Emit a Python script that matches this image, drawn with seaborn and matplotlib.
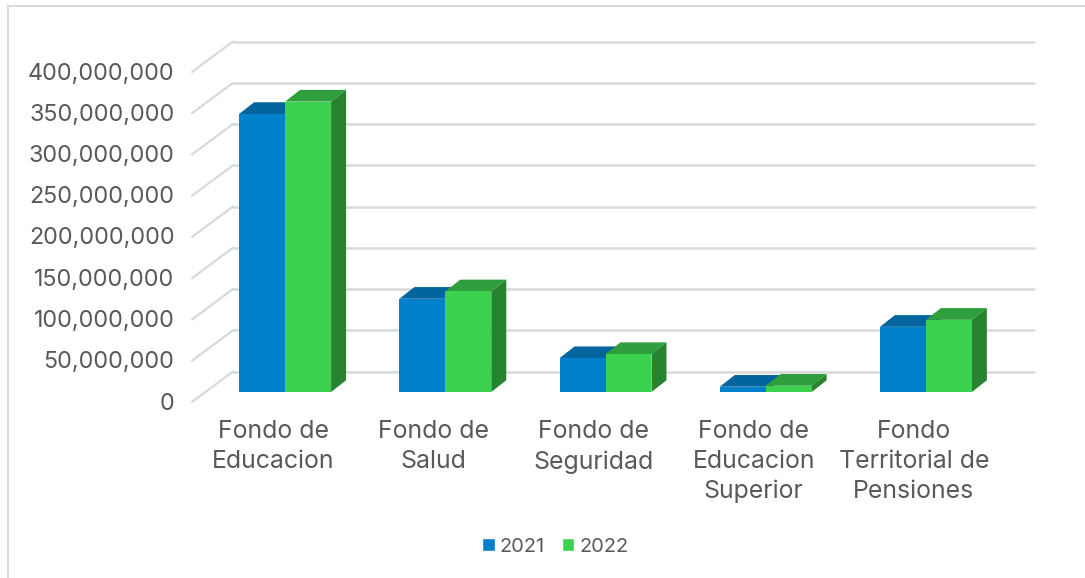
import pandas as pd
import matplotlib
matplotlib.use('Agg')
import matplotlib.pyplot as plt
from matplotlib.patches import Polygon, Rectangle
from matplotlib.transforms import Affine2D
import seaborn as sns

# valores
categorias = ['Fondo de\nEducacion', 'Fondo de\nSalud', 'Fondo de\nSeguridad',
              'Fondo de\nEducacion\nSuperior', 'Fondo\nTerritorial de\nPensiones']
valores_2021 = [337000000, 113000000, 41000000, 6400000, 79000000]
valores_2022 = [352000000, 122000000, 46000000, 7600000, 87500000]
anios = ['2021', '2022']
marcas_y = [0, 50000000, 100000000, 150000000, 200000000, 250000000, 300000000, 350000000, 400000000]

COLOR_FRENTE = {'2021': '#0180CC', '2022': '#3CD14F'}
COLOR_TAPA = {'2021': '#03649E', '2022': '#2F9E3C'}
COLOR_LADO = {'2021': '#025A8E', '2022': '#27832F'}
GRIS = '#D9D9D9'
TEXTO = '#595959'

sns.set_style('white')
plt.rcParams['font.family'] = ['Inter', 'DejaVu Sans']

W, H = 1085, 578
fig = plt.figure(figsize=(W / 100, H / 100), dpi=100)
# ejes en pixeles: plano de las barras
ax = fig.add_axes([205 / W, 186 / H, 801 / W, 330 / H])

df = pd.DataFrame({
    'categoria': categorias * 2,
    'valor': valores_2021 + valores_2022,
    'anio': [anios[0]] * 5 + [anios[1]] * 5,
})
sns.barplot(data=df, x='categoria', y='valor', hue='anio', hue_order=anios,
            palette=COLOR_FRENTE, saturation=1, width=0.574, gap=0, ax=ax)

ax.set_xlim(-0.5, 4.5)
ax.set_ylim(0, 400000000)
ax.set_yticks(marcas_y)
ax.set_yticklabels([f'{v:,}' for v in marcas_y])
ax.set_xlabel('')
ax.set_ylabel('')
sns.despine(ax=ax, left=True, bottom=True)
ax.patch.set_alpha(0)
ax.tick_params(axis='y', length=0, pad=22, labelsize=16.8, labelcolor=TEXTO)
ax.tick_params(axis='x', length=0, pad=20.5, labelsize=17.9, labelcolor=TEXTO)

# desplazar etiquetas respecto al plano de las barras
for lab in ax.get_yticklabels():
    lab.set_transform(lab.get_transform() + Affine2D().translate(0, -9))
for lab in ax.get_xticklabels():
    lab.set_transform(lab.get_transform() + Affine2D().translate(-12, 0))
    lab.set_linespacing(1.37)

# rejilla de la pared y el piso (efecto 3D)
atras = ax.transData + Affine2D().translate(28, 20.5)
frente = ax.transData + Affine2D().translate(-13, -10)
for v in marcas_y:
    ax.plot([-0.5, 4.5], [v, v], transform=atras, color=GRIS, lw=1.8, clip_on=False, zorder=0)
    p0 = frente.transform((-0.5, v))
    p1 = atras.transform((-0.5, v))
    ax.plot([p0[0], p1[0]], [p0[1], p1[1]], transform=None, color=GRIS, lw=1.6,
            clip_on=False, zorder=0)

# caras superior y lateral de cada barra
prof_x = 15 / 160.2
prof_y = 11.7 * 400000000 / 330
for i, (anio, cont) in enumerate(zip(anios, ax.containers)):
    for bar in cont:
        x0 = bar.get_x()
        x1 = x0 + bar.get_width()
        h = bar.get_height()
        bar.set_edgecolor('none')
        bar.set_zorder(3 + 2 * i)
        ax.add_patch(Polygon([(x0, h), (x1, h), (x1 + prof_x, h + prof_y), (x0 + prof_x, h + prof_y)],
                             facecolor=COLOR_TAPA[anio], edgecolor='none', zorder=2 + 2 * i))
        ax.add_patch(Polygon([(x1, 0), (x1 + prof_x, prof_y), (x1 + prof_x, h + prof_y), (x1, h)],
                             facecolor=COLOR_LADO[anio], edgecolor='none', zorder=2 + 2 * i))

ax.legend(loc='center', bbox_to_anchor=(555.5 / W, (H - 547) / H), bbox_transform=fig.transFigure,
          ncol=2, frameon=False, fontsize=14.4, labelcolor=TEXTO, handlelength=0.62, handleheight=0.62,
          handletextpad=0.25, columnspacing=0.85, borderpad=0, title=None)

# marco del grafico (recortado por la imagen)
fig.add_artist(Rectangle((7.5 / W, -0.1), 1.2, 1.1 - 6 / H, transform=fig.transFigure,
                         facecolor='none', edgecolor=GRIS, lw=1.4))

fig.savefig('out.png', dpi=100)
